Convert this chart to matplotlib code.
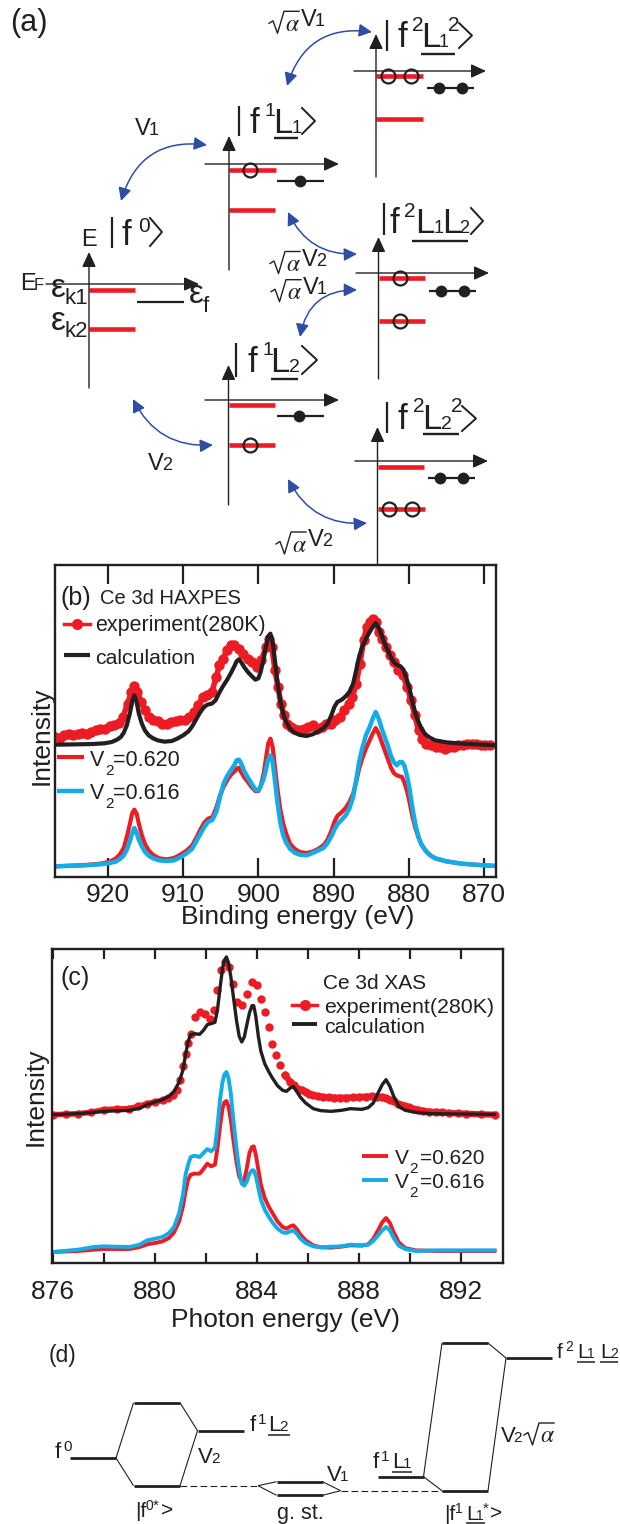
import numpy as np
import matplotlib
matplotlib.use("Agg")
import matplotlib.pyplot as plt

plt.rcParams['font.family'] = ['Liberation Sans', 'DejaVu Sans']

RED = "#ed1c24"
BLUE = "#12ade8"
INK = "#231f20"
ARROW = "#2e4ea6"

# panel b, Ce 3d HAXPES
b_exp_x = [927,926.4,925.8,925.2,924.6,924,923.4,922.8,922.2,921.6,921,920.4,919.8,919.2,918.6,918,917.4,916.9,916.5,916.1,915.6,915.1,914.6,914,913.4,912.8,912.2,911.6,911,910.4,909.8,909.2,908.6,908,907.4,906.8,906.2,905.6,905.2,904.7,904.2,903.7,903.2,902.6,902,901.4,900.8,900.2,899.6,899,898.6,898.2,897.8,897.4,897,896.6,896.2,895.7,895.2,894.6,894,893.4,892.8,892.2,891.6,891,890.4,889.8,889.2,888.6,888,887.5,887,886.5,886,885.6,885.2,884.8,884.4,884,883.5,883,882.5,882,881.4,880.8,880.2,879.7,879.2,878.7,878.2,877.7,877,876.4,875.8,875.2,874.6,874,873.4,872.8,872.2,871.6,871,870.4,869.8,869.2]
b_exp_y = [420,417,425,430,425,430,432,430,435,440,445,445,453,455,462,480,520,555,572,555,525,500,480,472,467,460,460,465,467,472,472,480,495,515,540,545,555,600,635,655,680,695,697,685,670,655,645,630,650,690,715,690,620,570,520,485,460,450,445,440,445,450,455,445,450,460,460,470,480,500,520,540,580,640,710,750,765,775,765,735,715,690,665,645,620,605,570,530,485,440,415,400,395,390,390,385,390,390,395,395,400,400,398,395,395,395]
b_calc_x = [927,924,922,920.5,919.5,918.8,918.3,917.9,917.5,917.1,916.8,916.5,916.2,915.9,915.5,915.1,914.6,914,913.4,912.5,911.5,910.8,910,909.3,908.8,908.3,907.8,907.3,906.8,906.2,905.7,905.2,904.7,904.2,903.7,903.2,902.9,902.6,902.3,901.9,901.4,900.9,900.4,900,899.7,899.3,899,898.7,898.4,898.1,897.8,897.5,897.1,896.7,896.3,895.8,895.2,894.5,893.6,892.8,892,891.3,890.8,890.3,889.9,889.5,888.9,888.4,887.9,887.4,887,886.6,886.2,885.7,885.2,884.8,884.4,884,883.6,883.2,882.8,882.4,882,881.6,881.1,880.7,880.3,879.9,879.5,879.1,878.7,878.3,877.8,877.2,876.5,875,873,870,868.3]
b_calc_y = [397,398,399,401,405,412,420,433,455,490,525,545,525,490,460,440,425,416,410,406,408,415,425,437,452,472,492,508,517,520,530,553,573,590,610,632,647,653,645,630,615,603,592,596,615,655,690,722,730,705,650,590,530,490,465,445,433,426,423,428,437,447,460,485,510,525,532,542,555,580,620,662,690,715,735,750,762,748,725,700,680,660,645,637,632,622,595,565,525,490,465,445,428,418,410,404,400,397,395]
b_v2_x = [927,923,921,919.8,919,918.4,917.9,917.5,917.1,916.8,916.5,916.2,915.9,915.5,915.1,914.6,914,913.2,912.2,911.2,910.3,909.5,908.8,908.2,907.7,907.2,906.7,906.1,905.6,905.1,904.6,904.1,903.6,903.1,902.9,902.6,902.3,901.9,901.4,900.9,900.4,900,899.7,899.3,899,898.7,898.4,898.1,897.8,897.5,897.1,896.7,896.3,895.8,895.2,894.5,893.6,892.8,892,891.3,890.8,890.3,889.9,889.5,888.9,888.4,887.9,887.4,887,886.6,886.2,885.7,885.2,884.8,884.4,884,883.6,883.2,882.8,882.4,882,881.6,881.2,880.9,880.6,880.2,879.9,879.5,879.1,878.7,878.3,877.8,877.2,876.5,875,873,870,868.3]
b_620 = [32,36,40,46,55,68,88,120,158,190,202,190,160,125,100,80,66,56,53,57,68,80,95,120,143,163,175,180,208,245,272,292,308,318,325,328,315,300,285,270,258,258,272,310,355,400,415,390,330,270,205,160,130,100,85,75,72,76,85,96,112,138,165,183,195,207,225,250,285,325,355,385,410,430,447,430,405,380,355,330,312,305,302,300,285,255,225,180,145,118,97,80,66,56,47,40,35,33]
b_616 = [32,35,38,42,46,54,65,82,107,130,147,132,112,92,76,64,56,50,48,50,60,72,85,110,130,150,165,172,195,240,282,305,322,340,350,352,342,318,298,280,262,260,272,295,322,352,365,345,290,230,165,125,103,85,73,67,65,72,80,88,102,122,142,158,172,185,205,240,290,345,385,425,450,475,495,475,445,420,395,365,345,335,345,345,335,300,265,205,155,120,97,80,66,56,47,40,35,33]
b_ticks = [920,910,900,890,880,870]

# panel c, Ce 3d XAS
c_exp_x = [876,876.5,877,877.5,878,878.5,879,879.35,879.7,880,880.3,880.5,880.7,880.85,881,881.1,881.2,881.3,881.4,881.55,881.75,881.95,882.15,882.3,882.45,882.6,882.75,882.9,883.05,883.2,883.4,883.6,883.8,884,884.15,884.3,884.45,884.6,884.75,884.9,885.1,885.3,885.45,885.6,885.75,885.9,886.05,886.2,886.4,886.6,886.8,887,887.25,887.5,887.75,888,888.25,888.5,888.7,888.9,889.05,889.2,889.35,889.5,889.65,889.8,889.95,890.1,890.3,890.5,890.75,891,891.25,891.5,891.85,892.2,892.75,893.3]
c_exp_y = [445,446,448,452,460,462,463,470,478,483,488,495,503,520,548,590,628,660,688,738,753,748,733,758,818,878,903,888,838,783,773,808,843,833,793,753,708,658,623,593,563,543,533,523,518,513,508,503,500,498,497,496,496,496,497,498,499,500,499,498,494,490,485,478,473,471,467,463,460,456,454,453,452,450,449,448,446,445]
c_calc_x = [876,877,877.6,878,879,879.4,879.7,880,880.3,880.55,880.75,880.95,881.1,881.2,881.3,881.4,881.55,881.75,881.9,882.05,882.2,882.35,882.45,882.55,882.65,882.72,882.8,882.88,882.97,883.07,883.2,883.3,883.4,883.5,883.6,883.7,883.8,883.87,883.95,884.05,884.15,884.3,884.45,884.6,884.8,885,885.15,885.3,885.42,885.55,885.7,885.9,886.2,886.5,886.9,887.3,887.65,888.1,888.35,888.55,888.75,888.9,889.05,889.2,889.35,889.55,889.8,890.2,890.8,893.3]
c_calc_y = [445,448,452,455,458,464,475,483,490,500,515,543,580,625,665,685,688,686,698,715,718,722,760,825,885,908,918,900,860,800,725,680,663,678,715,750,772,772,740,680,635,598,575,555,532,518,515,525,530,515,497,480,463,457,455,458,463,461,466,480,512,535,550,530,500,470,458,452,448,446]
c_v2_x = [876,877,877.6,878,879,879.4,879.7,880,880.3,880.55,880.75,880.95,881.1,881.2,881.3,881.4,881.55,881.75,881.9,882.05,882.2,882.35,882.45,882.55,882.65,882.72,882.8,882.88,882.97,883.07,883.2,883.3,883.4,883.5,883.6,883.7,883.8,883.87,883.95,884.05,884.15,884.3,884.45,884.6,884.8,885,885.15,885.3,885.42,885.55,885.7,885.9,886.2,886.5,886.9,887.3,887.65,888.1,888.35,888.55,888.75,888.9,889.05,889.2,889.35,889.55,889.8,890.2,891,893.3]
c_620 = [33,36,40,42,42,48,56,60,65,75,92,125,170,215,250,265,268,268,282,298,290,295,345,410,465,482,486,470,430,370,300,260,243,250,285,330,348,350,325,280,235,195,170,150,125,108,103,110,113,102,85,68,53,47,46,49,53,52,56,72,100,122,135,120,92,62,45,38,36,36]
c_616 = [33,40,48,50,48,55,68,73,78,90,108,150,205,265,295,318,322,318,330,342,335,345,410,490,545,565,573,555,510,430,340,280,238,232,245,268,278,278,262,225,190,160,140,122,103,92,90,95,98,88,73,60,50,47,49,50,55,53,55,66,84,98,108,98,75,52,42,36,38,38]
c_ticks = [876,878,880,882,884,886,888,890,892]
c_labels = ['876','','880','','884','','888','','892']

W, H = 620, 1524
fig = plt.figure(figsize=(W/100, H/100), dpi=100)


def panel(left, right, top, bottom):
    return fig.add_axes([left/W, 1-bottom/H, (right-left)/W, (bottom-top)/H])


#panel b
axb = panel(55, 496, 565, 877)
axb.plot(b_exp_x, b_exp_y, '-o', color=RED, ms=7.5, mew=0, lw=4)
axb.plot(b_calc_x, b_calc_y, color=INK, lw=3, solid_joinstyle='round')
axb.plot(b_v2_x, b_620, color=RED, lw=3, solid_joinstyle='round')
axb.plot(b_v2_x, b_616, color=BLUE, lw=3.2, solid_joinstyle='round')
axb.set_xlim(927.05, 868.4)
axb.set_ylim(0, 936)
axb.set_xticks(b_ticks)
axb.tick_params(axis='x', direction='in', top=True, length=13.5, width=1.6, labelsize=19, pad=4, colors=INK)
axb.set_yticks([])
axb.set_xlabel("Binding energy (eV)", fontsize=19, labelpad=-1, color=INK, x=0.55)
axb.set_ylabel("Intensity", fontsize=19, labelpad=1, color=INK, y=0.452)

#panel c
axc = panel(52, 503, 949, 1263)
axc.plot(c_exp_x, c_exp_y, 'o', color=RED, ms=6, mew=0)
axc.plot(c_exp_x[:14], c_exp_y[:14], color=RED, lw=4)
axc.plot(c_exp_x[40:], c_exp_y[40:], color=RED, lw=4.5)
axc.plot(c_calc_x, c_calc_y, color=INK, lw=2.4, solid_joinstyle='round')
axc.plot(c_v2_x, c_620, color=RED, lw=2.8, solid_joinstyle='round')
axc.plot(c_v2_x, c_616, color=BLUE, lw=2.8, solid_joinstyle='round')
axc.set_xlim(875.97, 893.63)
axc.set_ylim(0, 942)
axc.set_xticks(c_ticks)
axc.set_xticklabels(c_labels)
axc.tick_params(axis='x', direction='in', top=True, length=7, width=1.6, labelsize=19, pad=12, colors=INK)
axc.set_yticks([])
axc.set_xlabel("Photon energy (eV)", fontsize=19, labelpad=3, color=INK, x=0.517)
axc.set_ylabel("Intensity", fontsize=19, labelpad=3, color=INK, y=0.53)

for ax in (axb, axc):
    for s in ax.spines.values():
        s.set_linewidth(1.7)
        s.set_color(INK)

#everything else goes on a sheet in pixel coordinates
ax = fig.add_axes([0, 0, 1, 1], zorder=5)
ax.set_xlim(0, W)
ax.set_ylim(H, 0)
ax.axis('off')
ax.patch.set_alpha(0)


def txt(x, y, s, size=16, **kw):
    ax.text(x, y, s, fontsize=size, color=INK, ha=kw.pop('ha', 'left'), va='baseline', **kw)


def seg(x0, x1, y0, y1=None, lw=1.0, color=INK, **kw):
    ax.plot([x0, x1], [y0, y0 if y1 is None else y1], color=color, lw=lw, solid_capstyle='butt', **kw)


def axes_arrow(x0, y0, x1, y1):
    ax.annotate("", xy=(x1, y1), xytext=(x0, y0),
                arrowprops=dict(arrowstyle="-|>,head_length=0.65,head_width=0.3", color=INK, lw=1.0,
                                mutation_scale=14, shrinkA=0, shrinkB=0))


def swoop(x0, y0, x1, y1, rad):
    ax.annotate("", xy=(x1, y1), xytext=(x0, y0),
                arrowprops=dict(arrowstyle="<|-|>,head_length=0.6,head_width=0.3", color=ARROW, lw=1.1,
                                mutation_scale=13, shrinkA=0, shrinkB=0,
                                connectionstyle="arc3,rad=%g" % rad))


def ket_marks(bar, y0, y1, cx0, cx1, cy0, cy1):
    seg(bar, bar, y0, y1, lw=1.6)
    ax.plot([cx0, cx1, cx0], [cy0, (cy0+cy1)/2, cy1], color=INK, lw=1.4)


def sqrt_alpha(x, y, size=17):
    # x is the left end of the radical, y its lowest point
    ax.plot([x, x+4, x+8.5, x+15, x+30], [y-10, y-12.5, y, y-22, y-22], color=INK, lw=1.0)
    ax.text(x+16, y-2.5, r"$\alpha$", fontsize=size, color=INK, math_fontfamily='stix', va='baseline')


# level schemes of panel a: vaxis x, y bottom, y top, haxis y, x from, x to
schemes = [(89, 388, 252, 284, 46, 199),
           (229, 270, 136, 164, 205, 339),
           (376, 177, 34, 71, 354, 486),
           (378.5, 379, 237, 273, 356, 489),
           (228.5, 505, 365, 400, 205, 339),
           (377.5, 565, 427, 461, 355, 488)]
red_levels = [(89, 135, 290), (89, 135, 328.5),
              (229, 276, 169.7), (229, 275, 209.5),
              (376, 423, 76), (376, 423, 119),
              (379, 425, 278), (379, 425, 321),
              (229, 275, 405), (229, 275, 445),
              (378, 424, 467), (378, 425, 509)]
black_levels = [(137, 184, 302), (277, 324, 180.5), (427, 474, 88),
                (429, 476, 290.5), (277, 324, 416), (428, 475, 478)]
holes_x = [250, 388, 411, 400, 400, 249.5, 389, 412]
holes_y = [170, 76, 76, 278, 321, 445, 509, 509]
dots_x = [299.5, 439, 462, 441, 464, 299, 440, 463]
dots_y = [180.5, 88, 88, 290.5, 290.5, 416, 478, 478]

for vx, yb, yt, hy, x0, x1 in schemes:
    axes_arrow(vx, yb, vx, yt)
    axes_arrow(x0, hy, x1, hy)
for x0, x1, y in red_levels:
    seg(x0, x1, y, lw=3.3, color=RED)
for x0, x1, y in black_levels:
    seg(x0, x1, y, lw=1.6)
ax.plot(holes_x, holes_y, 'o', ms=10, mfc='none', mec=INK, mew=1.6, ls='none')
ax.plot(dots_x, dots_y, 'o', ms=8.5, color=INK, mew=0, ls='none')

swoop(207, 145, 121, 201, 0.42)
swoop(372, 32, 287, 86, 0.42)
swoop(288, 212, 357, 254, 0.33)
swoop(357, 290, 300, 337, 0.42)
swoop(133, 399, 213, 445, 0.33)
swoop(288, 479, 367, 523, 0.33)

txt(10, 31, "(a)", 22)
txt(81, 246, "E", 17)
ket_marks(112, 217, 248, 150, 162, 218, 246)
txt(121, 245, "f", 25)
txt(138, 232, "0", 15)

ket_marks(238.5, 106, 136, 302, 315, 108, 134)
txt(249, 133, "f", 25)
txt(264, 116, "1", 14)
txt(273, 133, "L", 25)
txt(292, 133, "1", 13)
seg(274, 298, 137.5, lw=1.7)

ket_marks(387, 20, 51, 459, 472, 23, 48)
txt(397, 47, "f", 25)
txt(412, 31, "2", 15)
txt(421, 47, "L", 25)
txt(439, 47, "1", 13)
txt(448, 31, "2", 15)
seg(421, 455, 54, lw=1.7)

ket_marks(384, 203, 235, 471, 483, 208, 234)
txt(390, 233, "f", 25)
txt(404, 217, "2", 15)
txt(415, 233, "L", 25)
txt(434, 233, "1", 13)
txt(442, 233, "L", 25)
txt(459, 233, "2", 13)
seg(412, 468, 240.7, lw=1.7)

ket_marks(236, 343, 377, 302, 317, 346, 374)
txt(247, 372, "f", 25)
txt(263, 355, "1", 14)
txt(270, 372, "L", 25)
txt(289, 372, "2", 14)
seg(271, 298, 379, lw=1.7)

ket_marks(387, 402, 433, 462, 476, 406, 431)
txt(397, 429, "f", 25)
txt(413, 412, "2", 15)
txt(422, 429, "L", 25)
txt(441, 429, "2", 14)
txt(451, 412, "2", 15)
seg(423, 459, 434, lw=1.7)

for x, y, n in [(135, 135, "1"), (148, 470, "2")]:
    txt(x, y, "V", 17)
    txt(x+14, y, n, 13)
for x, y, n in [(269, 33.3, "1"), (270, 273.5, "2"), (271, 301.7, "1"), (276, 554, "2")]:
    sqrt_alpha(x, y)
    txt(x+32, y-7.5, "V", 17)
    txt(x+46, y-7.5, n, 13)

txt(20, 290, "E", 17)
txt(34, 290, "F", 12)
txt(51, 297, "ε", 24)
txt(64, 304, "k1", 16)
txt(51, 330, "ε", 24)
txt(64, 337, "k2", 16)
txt(189, 303, "ε", 24)
txt(203, 312, "f", 16)

#texts and keys of panel b
txt(61, 605, "(b)", 18)
txt(100, 604, "Ce 3d HAXPES", 14.5)
ax.plot([64, 77, 90], [624, 624, 624], '-o', color=RED, lw=2.5, ms=8, mew=0, markevery=[1])
txt(95, 631, "experiment(280K)", 15.5)
seg(64, 90, 655, lw=3, color=INK)
txt(95, 664, "calculation", 15.3)
seg(57, 84, 756.7, lw=3, color=RED)
seg(57, 84, 790.7, lw=3.2, color=BLUE)
for y, v in [(766, "=0.620"), (799, "=0.616")]:
    txt(90, y, "V", 15.5)
    txt(105, y+9, "2", 11)
    txt(113, y, v, 15.5)

#texts and keys of panel c
txt(60, 985, "(c)", 18)
txt(323, 989, "Ce 3d XAS", 15)
ax.plot([292, 304.5, 317], [1005, 1005, 1005], '-o', color=RED, lw=2.5, ms=8, mew=0, markevery=[1])
txt(324, 1013, "experiment(280K)", 15.4)
seg(292, 317, 1024, lw=2.8, color=INK)
txt(324, 1033, "calculation", 15.4)
seg(362, 388, 1156, lw=2.8, color=RED)
seg(362, 388, 1180, lw=2.8, color=BLUE)
for y, v in [(1164, "=0.620"), (1188, "=0.616")]:
    txt(395, y, "V", 15)
    txt(409, y+9, "2", 11)
    txt(420, y, v, 15)

#panel d, energy levels: x from, x to, y
d_levels = [(69.5, 116, 1458), (133.5, 180, 1402.7), (133.5, 180, 1485.7), (197.5, 244, 1430.7),
            (276.6, 322.5, 1481.7), (276.6, 322.5, 1495.3),
            (377.5, 423.5, 1476.7), (442, 488, 1490.7), (442, 488, 1343), (506, 552, 1358)]
d_links = [(116, 1458, 133.5, 1402.7), (116, 1458, 133.5, 1485.7),
           (180, 1402.7, 197.5, 1430.7), (180, 1485.7, 197.5, 1430.7),
           (258, 1485.7, 276.6, 1481.7), (258, 1485.7, 276.6, 1495.3),
           (322.5, 1481.7, 340.6, 1490.7), (322.5, 1495.3, 340.6, 1490.7),
           (423.5, 1476.7, 442, 1343), (423.5, 1476.7, 442, 1490.7),
           (488, 1343, 506, 1358), (488, 1490.7, 506, 1358)]
d_dashed = [(180, 258, 1485.7), (340.6, 442, 1490.7)]

for x0, x1, y in d_levels:
    seg(x0, x1, y, lw=2)
for x0, y0, x1, y1 in d_links:
    seg(x0, x1, y0, y1, lw=0.8)
for x0, x1, y in d_dashed:
    seg(x0, x1, y, lw=0.8, linestyle=(0, (6, 3)))

txt(49, 1362, "(d)", 16.5)
txt(55, 1458, "f", 16)
txt(63, 1451, "0", 11)
txt(249.5, 1431, "f", 16)
txt(258, 1424, "1", 11)
txt(268, 1431, "L", 16)
txt(279, 1431, "2", 11)
seg(268, 290, 1434.5, lw=1.1)
txt(197.5, 1463, "V", 16)
txt(211, 1463, "2", 11)
txt(135, 1517, "|f", 15)
txt(146, 1510, "0", 10)
txt(153, 1510, "*", 11)
txt(161, 1517, ">", 15)
txt(277, 1519, "g. st.", 15.5)
txt(327, 1481, "V", 16)
txt(340, 1481, "1", 11)
txt(373, 1468, "f", 16)
txt(381, 1461, "1", 11)
txt(392, 1468, "L", 16)
txt(403, 1468, "1", 11)
seg(392, 412, 1471.5, lw=1.1)
txt(500.5, 1442, "V", 16)
txt(513, 1442, "2", 11)
sqrt_alpha(524, 1445)
txt(557, 1358, "f", 15)
txt(565, 1351, "2", 10)
txt(577, 1358, "L", 15)
txt(587, 1358, "1", 10)
txt(600, 1358, "L", 15)
txt(610, 1358, "2", 10)
seg(577, 595, 1361.5, lw=1.1)
seg(600, 618, 1361.5, lw=1.1)
txt(444, 1520, "|f", 15)
txt(455, 1513, "1", 10)
txt(466, 1520, "L", 15)
txt(476, 1520, "1", 10)
txt(483, 1513, "*", 11)
txt(490, 1520, ">", 15)
seg(466, 485, 1523, lw=1.1)

fig.savefig("out.png", dpi=100)
